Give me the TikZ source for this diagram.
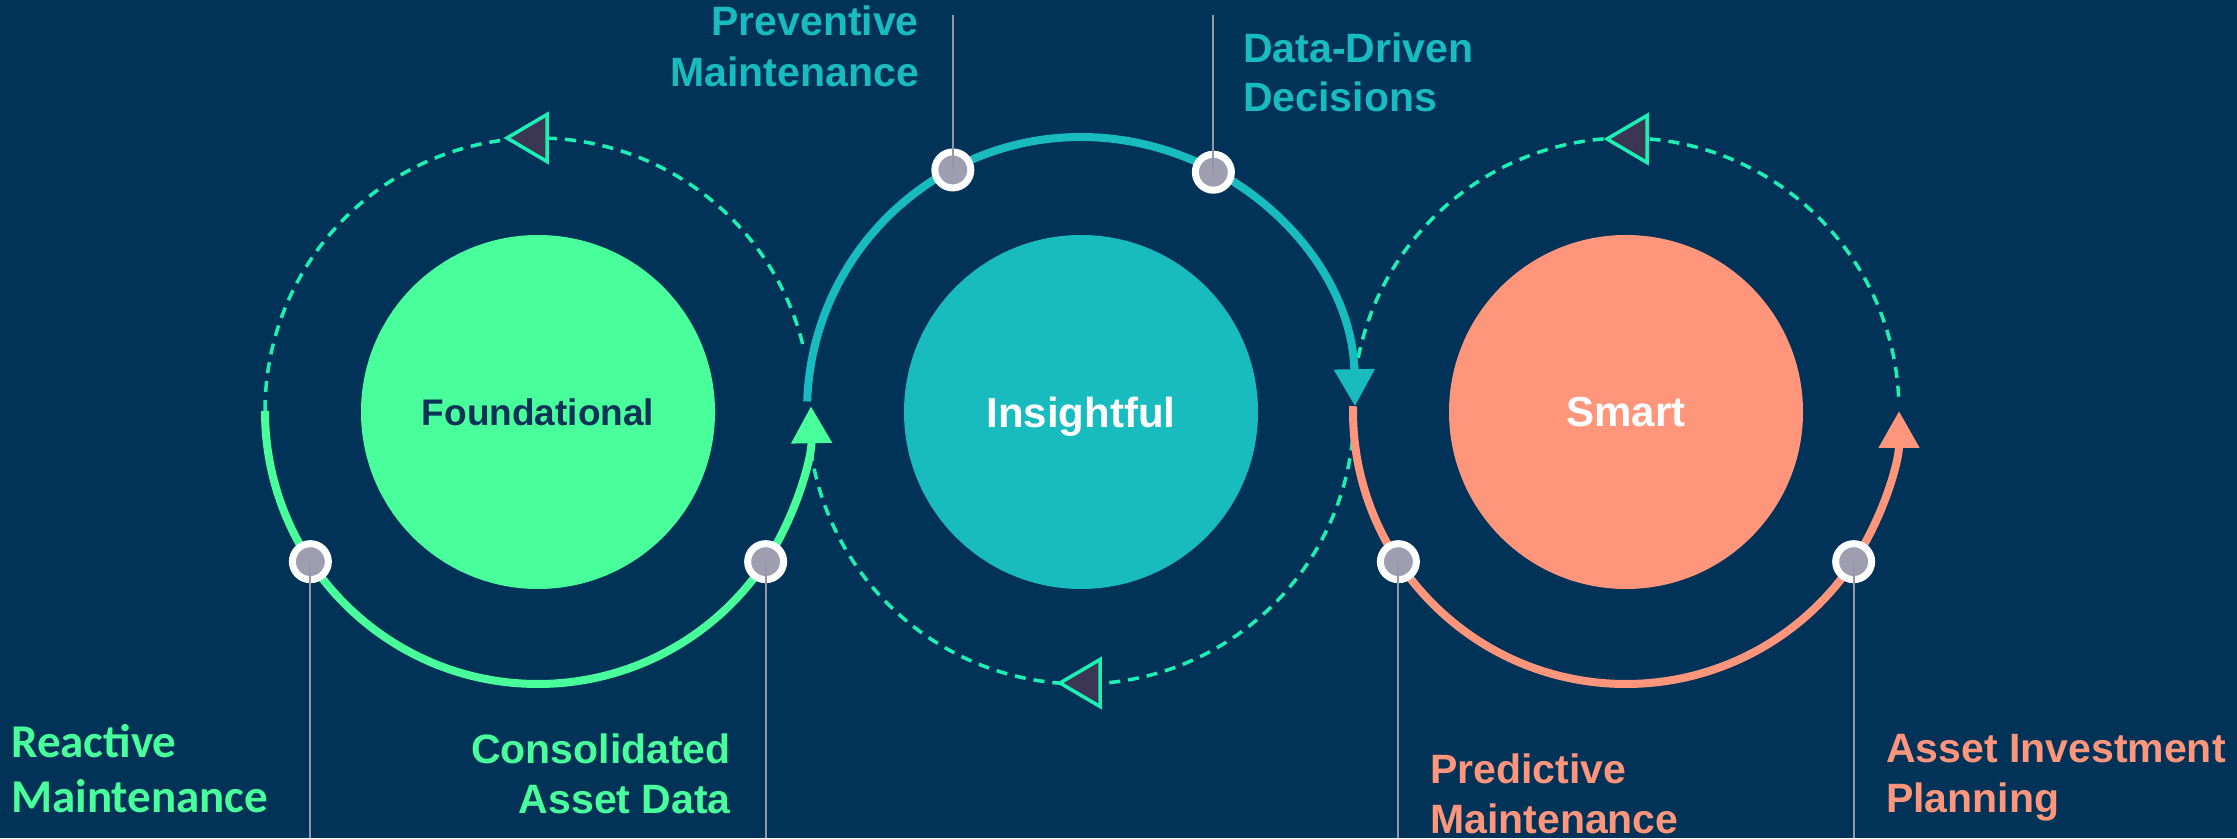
\documentclass[tikz,border=0pt]{standalone}
\usepackage{fontspec}
\setmainfont{Liberation Sans}
\newfontfamily\carlito{Carlito}
\usetikzlibrary{arrows.meta,calc}
\definecolor{bgc}{RGB}{1,50,87}
\definecolor{greenc}{RGB}{72,255,155}
\definecolor{tealc}{RGB}{24,188,190}
\definecolor{salmonc}{RGB}{255,150,124}
\definecolor{dashc}{RGB}{29,240,180}
\definecolor{trifill}{RGB}{58,54,84}
\definecolor{dotgray}{RGB}{158,158,176}
\definecolor{leadgray}{RGB}{150,150,170}
\definecolor{navytext}{RGB}{12,50,88}
\begin{document}
\begin{tikzpicture}[x=1pt,y=1pt,
  ring/.style={line width=8pt},
  tipped/.style={-{Triangle[width=39pt,length=37pt]}},
  dashring/.style={draw=dashc, line width=3.5pt, dash pattern=on 11pt off 8pt},
  marker/.style={draw=dashc, line width=3.5pt, fill=trifill},
  dotnode/.style={circle, fill=dotgray, draw=white, line width=7pt, minimum size=36pt, inner sep=0pt},
  lead/.style={draw=leadgray, line width=2.2pt},
  stage/.style={circle, minimum size=354pt, inner sep=0pt, text depth=0pt, font=\bfseries\fontsize{42}{50}\selectfont},
  lbl/.style={inner sep=0pt, font=\bfseries\fontsize{41}{49}\selectfont},
  lblc/.style={inner sep=0pt, font=\carlito\bfseries\fontsize{47}{55}\selectfont}
]
\useasboundingbox (0,0) rectangle (2237,838);
\fill[bgc] (0,0) rectangle (2237,838);

\coordinate (L) at (538,427);
\coordinate (M) at (1081,427);
\coordinate (R) at (1626,427);

% dashed return paths
\draw[dashring] ($(L)+(180:273)$) arc[start angle=180, end angle=13, radius=273];
\draw[dashring] ($(M)+(-6:273)$) arc[start angle=-6, end angle=-173, radius=273];
\draw[dashring] ($(R)+(3:273)$) arc[start angle=3, end angle=171, radius=273];

% solid paths
\draw[ring, greenc, tipped] ($(L)+(180:273)$) arc[start angle=180, end angle=361, radius=273];
\draw[ring, tealc, tipped] ($(M)+(178:274)$) arc[start angle=178, end angle=1, radius=274];
\draw[ring, salmonc, tipped] ($(R)+(179:273)$) arc[start angle=179, end angle=360, radius=273];

% direction markers
\coordinate (t1) at (527,700);
\coordinate (t2) at (1080,155);
\coordinate (t3) at (1627,699);
\foreach \t in {t1,t2,t3}{
  \draw[marker] ($(\t)+(-20,0)$) -- ($(\t)+(20,23.5)$) -- ($(\t)+(20,-23.5)$) -- cycle;
}

% stage circles
\node[stage, fill=greenc, text=navytext, font=\bfseries\fontsize{37}{44}\selectfont] (found) at (538,426) {Foundational};
\node[stage, fill=tealc, text=white] (insight) at (1081,426) {Insightful};
\node[stage, fill=salmonc, text=white] (smart) at (1626,426) {Smart};

% dots
\node[dotnode] (d1) at ($(L)+(213.5:273)$) {};
\node[dotnode] (d2) at ($(L)+(326.5:273)$) {};
\node[dotnode] (d3) at ($(M)+(118:273)$) {};
\node[dotnode] (d4) at ($(M)+(61:273)$) {};
\node[dotnode] (d5) at ($(R)+(213.5:273)$) {};
\node[dotnode] (d6) at ($(R)+(326.5:273)$) {};

% leader lines
\coordinate (e1) at (d1 |- 0,0);
\coordinate (e2) at (d2 |- 0,0);
\coordinate (e3) at (d3 |- 0,823);
\coordinate (e4) at (d4 |- 0,823);
\coordinate (e5) at (d5 |- 0,0);
\coordinate (e6) at (d6 |- 0,0);
\foreach \i in {1,...,6}{ \draw[lead] (e\i) -- (d\i.center); }

% labels
\node[lblc, text=greenc, anchor=base west] (r1) at (11,81) {Reactive};
\node[lblc, text=greenc, anchor=base west] (r2) at (11,26) {Maintenance};
\node[lbl, text=greenc, anchor=base east] (c1) at (731,75) {Consolidated};
\node[lbl, text=greenc, anchor=base east] (c2) at (731,25) {Asset Data};
\node[lbl, text=tealc, anchor=base east] (p1) at (919,802) {Preventive};
\node[lbl, text=tealc, anchor=base east] (p2) at (919,751) {Maintenance};
\node[lbl, text=tealc, anchor=base west] (dd1) at (1243,775) {Data-Driven};
\node[lbl, text=tealc, anchor=base west] (dd2) at (1243,726) {Decisions};
\node[lbl, text=salmonc, anchor=base west] (pr1) at (1430,55) {Predictive};
\node[lbl, text=salmonc, anchor=base west] (pr2) at (1430,5) {Maintenance};
\node[lbl, text=salmonc, anchor=base west] (a1) at (1886,76) {Asset Investment};
\node[lbl, text=salmonc, anchor=base west] (a2) at (1886,26) {Planning};
\end{tikzpicture}
\end{document}
